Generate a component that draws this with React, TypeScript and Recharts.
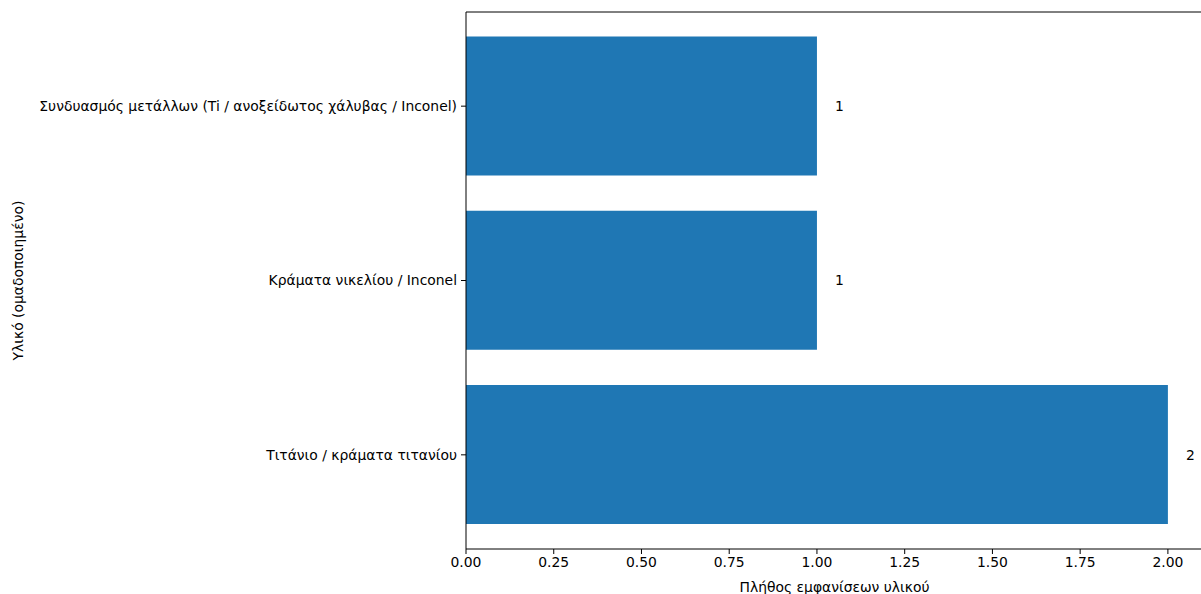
import React from 'react';
import { BarChart, Bar, XAxis, YAxis, LabelList, CartesianGrid } from 'recharts';

const categories = [
  'Συνδυασμός μετάλλων (Ti / ανοξείδωτος χάλυβας / Inconel)',
  'Κράματα νικελίου / Inconel',
  'Τιτάνιο / κράματα τιτανίου',
];
const counts = [1, 1, 2];
const xTicks = [0, 0.25, 0.5, 0.75, 1.0, 1.25, 1.5, 1.75, 2.0];
const xTitle = 'Πλήθος εμφανίσεων υλικού';
const yTitle = 'Υλικό (ομαδοποιημένο)';

const data = categories.map((name, i) => ({ name, value: counts[i] }));

const FONT = "'DejaVu Sans', sans-serif";
const FS = 13.9;

export default function App() {
  return (
    <div style={{ position: 'absolute', left: 0, top: 0, width: 1201, height: 594, overflow: 'hidden', background: '#fff' }}>
      <BarChart
        width={1220}
        height={594}
        data={data}
        layout="vertical"
        margin={{ top: 12, right: 17, bottom: 0, left: 0 }}
        barCategoryGap="10%"
        style={{ fontFamily: FONT }}
      >
        <CartesianGrid
          vertical={false}
          horizontal
          stroke="#000"
          strokeDasharray=""
          horizontalCoordinatesGenerator={(p: any) => [p.offset.top]}
        />
        <XAxis
          type="number"
          domain={[0, 2.1]}
          ticks={xTicks}
          tickFormatter={(v: number) => v.toFixed(2)}
          height={45}
          tickSize={5}
          tickMargin={3}
          allowDataOverflow
          axisLine={{ stroke: '#000', strokeWidth: 1 }}
          tickLine={{ stroke: '#000' }}
          tick={{ fill: '#000', fontSize: FS, fontFamily: FONT }}
          label={{ value: xTitle, position: 'insideBottom', offset: 2, fill: '#000', fontSize: FS, fontFamily: FONT }}
        />
        <YAxis
          type="category"
          dataKey="name"
          width={466}
          padding={{ top: 7, bottom: 7 }}
          tickSize={5}
          tickMargin={4}
          axisLine={{ stroke: '#000', strokeWidth: 1 }}
          tickLine={{ stroke: '#000' }}
          tick={{ fill: '#000', fontSize: FS, fontFamily: FONT }}
          label={{
            content: (props: any) => {
              const vb = props.viewBox || {};
              const cy = (vb.y ?? 12) + (vb.height ?? 537) / 2;
              return (
                <text
                  x={18}
                  y={cy}
                  transform={`rotate(-90, 18, ${cy})`}
                  textAnchor="middle"
                  dominantBaseline="central"
                  fill="#000"
                  fontSize={FS}
                  fontFamily={FONT}
                >
                  {yTitle}
                </text>
              );
            },
          }}
        />
        <Bar dataKey="value" fill="#1f77b4" isAnimationActive={false}>
          <LabelList dataKey="value" position="right" offset={18} fill="#000" fontSize={FS} fontFamily={FONT} />
        </Bar>
      </BarChart>
    </div>
  );
}
